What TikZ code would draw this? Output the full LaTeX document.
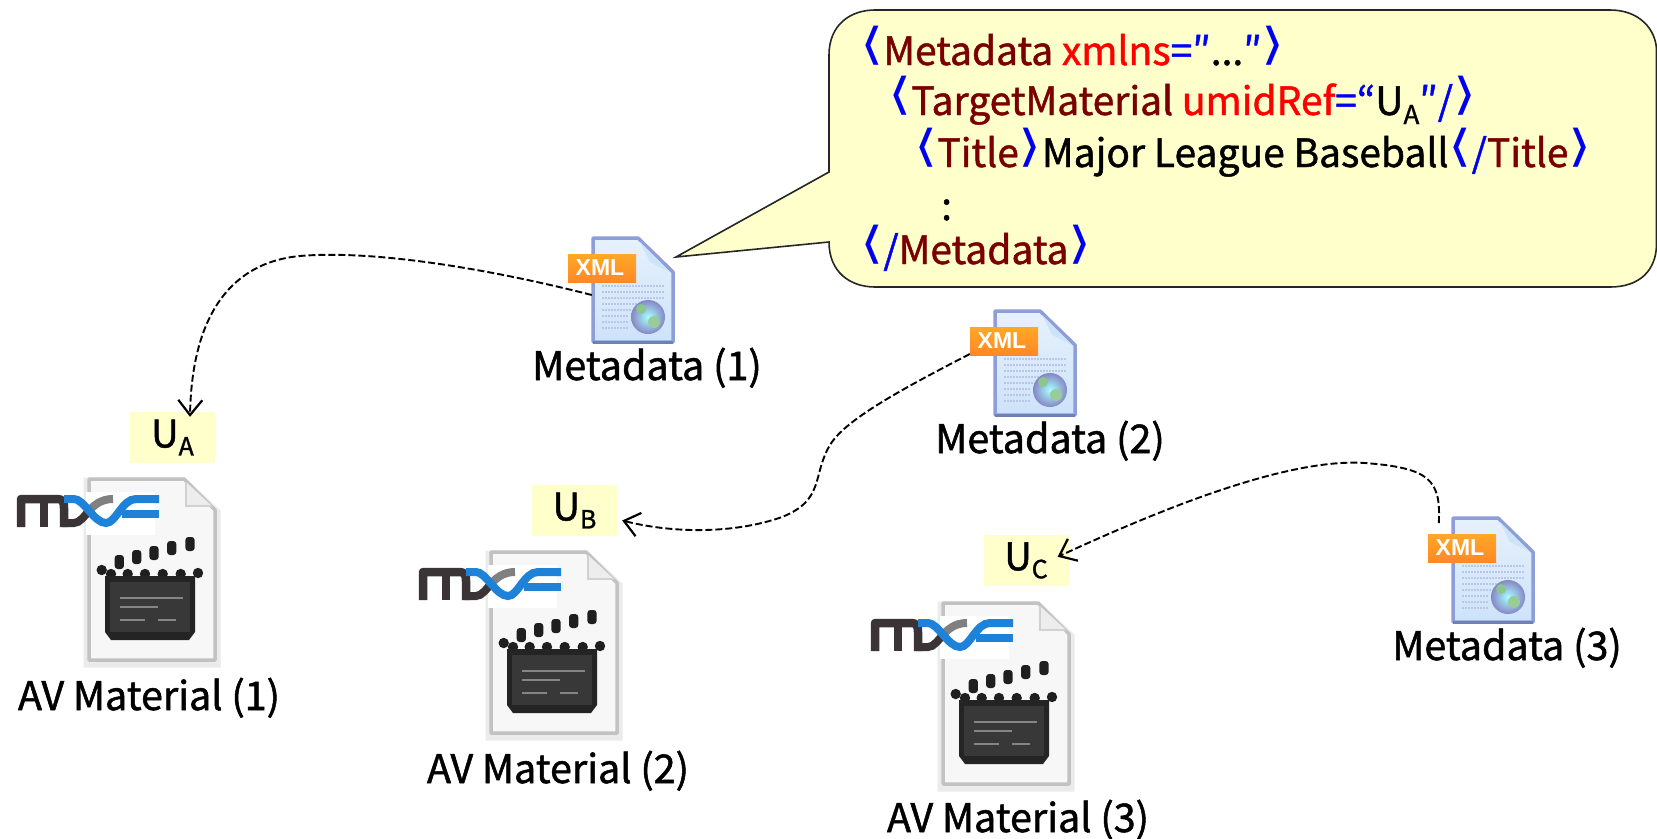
\documentclass[tikz,border=0pt]{standalone}
\usepackage{fontspec}
\setmainfont{Noto Sans CJK JP}[FakeBold=1.3]
\newfontfamily\tagfont{DejaVu Sans}
\newfontfamily\codefont{Noto Sans CJK JP}[FakeBold=1.2]
\newfontfamily\tinyfont{Liberation Sans}
\usetikzlibrary{arrows.meta,shadings}
\definecolor{note}{HTML}{FFFFCC}
\definecolor{tagblue}{HTML}{0000F0}
\definecolor{tagred}{HTML}{7A0000}
\definecolor{attrred}{HTML}{FF0000}
\definecolor{mxfblue}{HTML}{1E82D8}
\definecolor{mxfdark}{HTML}{3A3436}
\definecolor{xmltop}{HTML}{E6F1FC}
\definecolor{xmlbot}{HTML}{CDE3FA}
\definecolor{xmledge}{HTML}{8E9ED8}
\definecolor{xmlbase}{HTML}{7080B4}
\newcommand{\ltb}{{\color{tagblue}\tagfont\fontsize{44}{44}\selectfont\raisebox{5.5pt}{\scalebox{1.35}[1]{⟨}}}}
\newcommand{\gtb}{{\color{tagblue}\tagfont\fontsize{44}{44}\selectfont\raisebox{5.5pt}{\scalebox{1.35}[1]{⟩}}}}
\newcommand{\tg}[1]{{\color{tagred}#1}}
\newcommand{\at}[1]{{\color{attrred}#1}}
\newcommand{\bl}[1]{{\color{tagblue}#1}}
\tikzset{
  x=1pt,y=-1pt,
  lbl/.style={font=\fontsize{39.5}{42}\selectfont,inner sep=0pt,anchor=base,text=black},
  code/.style={font=\codefont\fontsize{39}{42}\selectfont,inner sep=0pt,anchor=base west,text=black},
  ubox/.style={fill=note,inner sep=0pt,font=\fontsize{38}{40}\selectfont},
  link/.style={draw=black,line width=1.9pt,dash pattern=on 7pt off 3pt,
     -{Straight Barb[length=15pt,width=24pt,line width=2.2pt]}},
  slot/.style={inner sep=0pt,draw=none,fill=none},
  avfile/.pic={
    % sheet
    \draw[line width=7pt,draw=black!8] (87,481) -- (184,481) -- (217,512) -- (217,664) -- (87,664) -- cycle;
    \draw[line width=3.5pt,draw=black!24,fill=white!97!black,line join=round] (89,479) -- (184,479) -- (215,510) -- (215,660) -- (89,660) -- cycle;
    \fill[white] (86,492) rectangle (155,535);
    \fill[black!7] (186,482) -- (186,506) -- (212,506) -- cycle;
    \draw[line width=1.5pt,draw=black!18] (186,482) -- (186,506) -- (212,506);
    % MXF logo
    \draw[mxfdark,line width=8.5pt,line join=round] (21,527) -- (21,499) -- (58,499) .. controls (63,499) and (64,503) .. (64,508) -- (64,527);
    \draw[mxfdark,line width=8.5pt] (44,499) -- (44,527);
    \draw[mxfdark,line width=8pt] (62,523) -- (74,523) .. controls (80,523) and (84,516) .. (90,510);
    \draw[black!50,line width=8pt] (88,512) .. controls (94,505) and (101,499) .. (113,499);
    \draw[mxfblue,line width=8pt] (64,499) -- (74,499) .. controls (84,499) and (94,523) .. (106,523) .. controls (116,523) and (122,499) .. (136,499) -- (159,499);
    \draw[mxfblue,line width=8pt] (122,514) -- (159,514);
    % clapper
    \foreach \x/\y in {119.3/562,136.7/557,154/553,171.7/548,190/544}
      \fill[black!88,rounded corners=3pt] (\x-4.6,\y-7) rectangle (\x+4.6,\y+7);
    \foreach \x/\y in {101.7/570,111/574,127.7/574,145/574,162.7/574,180.7/574,198/573}
      \fill[black!88] (\x,\y) circle (5.2);
    \fill[black!86,line join=round] (105,576) -- (195,576) -- (195,632) -- (189,640) -- (111,640) -- (105,632) -- cycle;
    \fill[black!78] (110,582) rectangle (190,632);
    \draw[black!48,line width=2.5pt] (120,598) -- (183,598);
    \draw[black!48,line width=2.5pt] (120,607) -- (158,607);
    \draw[black!48,line width=2.5pt] (120,620) -- (145,620);
    \draw[black!48,line width=2.5pt] (158,620) -- (176,620);
  },
  xmlfile/.pic={
    \draw[line width=3.5pt,draw=xmledge,line join=round,top color=xmltop,bottom color=xmlbot]
      (593,238) -- (638,238) -- (673,272) -- (673,342) -- (593,342) -- cycle;
    \draw[line width=3pt,draw=xmlbase] (593,342) -- (673,342);
    \fill[xmlbot] (640,242) -- (650,262) -- (670,272) -- cycle;
    \foreach \y/\e in {286/664,292/664,298/664,304/640,310/632,316/628,322/628,328/628}
      \draw[xmledge!60,line width=1.5pt,dash pattern=on 2pt off 1pt] (602,\y) -- (\e,\y);
    \shade[inner color=cyan!35!white,outer color=blue!35!gray!70] (648,317) circle (17);
    \fill[green!50!black!45] (641,309) circle (5);
    \fill[green!50!black!40] (654,322) circle (6);
    \fill[top color=orange!80!yellow!85,bottom color=orange!90!red!85] (568,254) rectangle (636,282);
    \node[inner sep=0pt,text=white,font=\tinyfont\bfseries\fontsize{23}{23}\selectfont] at (600,268) {XML};
  },
}
\begin{document}
\begin{tikzpicture}
\useasboundingbox (0,0) rectangle (1657,838);
\fill[white] (0,0) rectangle (1657,838);

% callout
\draw[fill=note,draw=black!85,line width=1.6pt,line join=miter]
  (676,257) -- (829,172) -- (829,55) .. controls (829,25) and (850,10) .. (875,10)
  -- (1610,10) .. controls (1640,10) and (1656,30) .. (1656.5,50)
  -- (1656.5,245) .. controls (1656,270) and (1640,287) .. (1610,287)
  -- (875,287) .. controls (850,287) and (829,272) .. (829,242) -- cycle;

% callout text
\node[code] (line1) at (860,65) {\ltb\tg{Metadata} \at{xmlns}\bl{=″}...\bl{″}\gtb};
\node[code] (line2) at (888,115) {\ltb\tg{TargetMaterial} \at{umidRef}\bl{=“}U\raisebox{-9pt}{\fontsize{26}{26}\selectfont A}\bl{″/}\gtb};
\node[code] (line3) at (914,167) {\ltb\tg{Title}\gtb Major League Baseball\ltb\bl{/}\tg{Title}\gtb};
\node[code] (line4) at (941,220) {:};
\node[code] (line5) at (860,264) {\ltb\bl{/}\tg{Metadata}\gtb};

% icons
\pic at (0,0) {avfile};
\pic at (402,73) {avfile};
\pic at (854,124) {avfile};
\pic at (0,0) {xmlfile};
\pic at (402,73) {xmlfile};
\pic at (860,280) {xmlfile};

% anchors for the icons
\node[slot,minimum width=82pt,minimum height=106pt] (xmlA) at (633,290) {};
\node[slot,minimum width=82pt,minimum height=106pt] (xmlB) at (1035,363) {};
\node[slot,minimum width=82pt,minimum height=106pt] (xmlC) at (1493,570) {};

% id boxes
\node[ubox,minimum width=85pt,minimum height=51pt] (ua) at (172.5,437.5) {U\raisebox{-8pt}{\fontsize{25}{25}\selectfont A}};
\node[ubox,minimum width=85pt,minimum height=51pt] (ub) at (574.5,510.5) {U\raisebox{-8pt}{\fontsize{25}{25}\selectfont B}};
\node[ubox,minimum width=85pt,minimum height=51pt] (uc) at (1026,560.5) {U\raisebox{-8pt}{\fontsize{25}{25}\selectfont C}};

% labels
\node[lbl] (lm1) at (647,380) {Metadata (1)};
\node[lbl] (lm2) at (1050,453) {Metadata (2)};
\node[lbl] (lm3) at (1507,660) {Metadata (3)};
\node[lbl] (la1) at (149,710) {AV Material (1)};
\node[lbl] (la2) at (558,783) {AV Material (2)};
\node[lbl] (la3) at (1018,832) {AV Material (3)};

% connectors
\draw[link] ([yshift=-5pt]xmlA.west) .. controls +(-110,-28) and (370,250) .. (300,256) .. controls (235,262) and (192,310) .. ([xshift=17.5pt,yshift=-5pt]ua.north);
\draw[link] ([xshift=-24pt,yshift=9pt]xmlB.west) .. controls (900,390) and (845,420) .. (830,445) .. controls (812,475) and (825,500) .. (782,517) .. controls (740,532) and (680,535) .. ([xshift=5pt,yshift=-10pt]ub.east);
\draw[link] ([xshift=-13pt,yshift=47pt]xmlC.west) .. controls (1441,480) and (1430,468) .. (1365,463) .. controls (1290,458) and (1170,505) .. ([xshift=-11pt,yshift=-22pt]uc.north east);
\end{tikzpicture}
\end{document}
